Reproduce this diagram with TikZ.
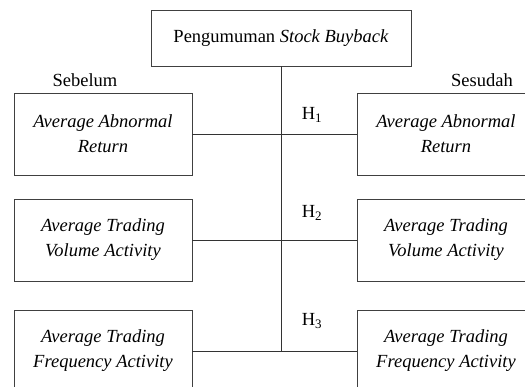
\documentclass[tikz,border=0pt]{standalone}
\usepackage{fontspec}
\setmainfont{Liberation Serif}
\def\colL{103}
\def\colR{446}

\begin{document}
\begin{tikzpicture}[x=1pt,y=-1pt]
    \tikzstyle{every node}=[font=\fontsize{18.5}{25}\selectfont]
    \tikzstyle{box}=[draw=black!75,line width=0.9pt,inner sep=0pt,align=center]
    \tikzstyle{var box}=[box,minimum width=178pt,minimum height=82pt,font=\fontsize{18.5}{25}\selectfont\itshape]
    \tikzstyle{link}=[draw=black!80,line width=0.9pt]

    \useasboundingbox (0,0) rectangle (525,387);
    \clip (0,0) rectangle (525,387);

    % Draw the announcement box
    \node[box,minimum width=260pt,minimum height=56pt] (top) at (281,38) {Pengumuman \textit{Stock Buyback}};

    % Draw the variable boxes
    \foreach \name / \y / \txt in {1/134/{Average Abnormal\\Return},
                                   2/240/{Average Trading\\Volume Activity},
                                   3/351/{Average Trading\\Frequency Activity}}
    {
        \node[var box] (L-\name) at (\colL,\y) {\txt};
        \node[var box] (R-\name) at (\colR,\y) {\txt};
    }

    % Draw the column labels
    \node (before) at (85,80) {Sebelum};
    \node (after) at (482,80) {Sesudah};

    % Draw the hypothesis labels
    \foreach \name / \y in {1/115,2/213,3/321}
        \node (H-\name) at (312,\y) {H\textsubscript{\name}};

    % Draw the connectors
    \draw[link] (top.south) -- (top.south |- L-3.east);
    \foreach \name in {1,2,3}
        \draw[link] (L-\name.east) -- (R-\name.west);
\end{tikzpicture}
\end{document}
